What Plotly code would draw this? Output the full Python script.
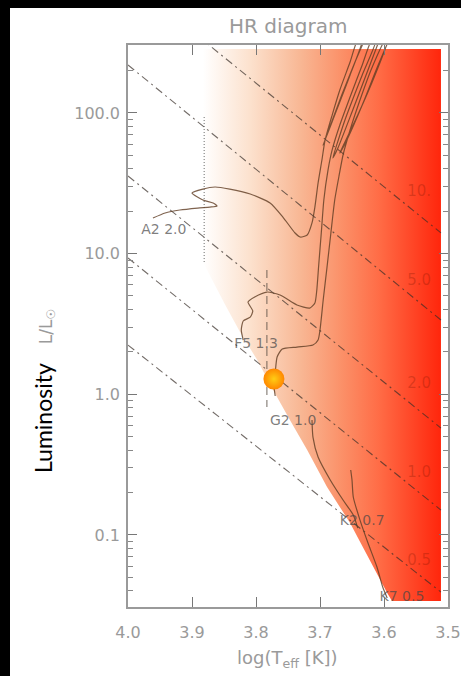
import plotly.graph_objects as go

# ---------------- data (log Teff, log L/Lsun) ----------------
# shaded (gradient) region outline
region_logt = [3.883, 3.511, 3.511, 3.5875, 3.595, 3.622, 3.653, 3.689, 3.720, 3.747, 3.775, 3.798, 3.825, 3.848, 3.869, 3.883]
region_logl = [2.455, 2.455, -1.470, -1.470, -1.413, -1.178, -0.915, -0.659, -0.396, -0.183, 0.045, 0.244, 0.443, 0.635, 0.812, 0.940]

# constant-radius lines (R / Rsun), start and end points
radius_values = [10, 5, 2, 1, 0.5]
radius_labels = ["10.", "5.0", "2.0", "1.0", "0.5"]
radius_start_logt = [4.0, 4.0, 4.0, 4.0, 4.0]
radius_start_logl = [2.949, 2.341, 1.552, 0.969, 0.350]
radius_end_logt = [3.511, 3.511, 3.511, 3.511, 3.511]
radius_end_logl = [1.147, 0.528, -0.240, -0.823, -1.406]
radius_label_logt = [3.545, 3.545, 3.545, 3.545, 3.545]
radius_label_logl = [1.438, 0.805, 0.073, -0.560, -1.185]

# evolutionary tracks
a2_logt = [3.961, 3.942, 3.919, 3.891, 3.872, 3.861, 3.867, 3.883, 3.900, 3.883, 3.864, 3.841, 3.809, 3.778,
           3.758, 3.739, 3.731, 3.720, 3.7125, 3.708, 3.703, 3.697, 3.692, 3.681, 3.669, 3.653, 3.641,
           3.634, 3.653, 3.677, 3.695, 3.6875, 3.666, 3.644, 3.627]
a2_logl = [1.253, 1.289, 1.310, 1.324, 1.331, 1.3385, 1.360, 1.381, 1.431, 1.459, 1.4735, 1.459, 1.424, 1.360,
           1.260, 1.1465, 1.118, 1.132, 1.218, 1.331, 1.502, 1.6655, 1.808, 1.985, 2.163, 2.362, 2.519,
           2.519, 2.270, 1.985, 1.772, 1.8645, 2.128, 2.376, 2.554]

f5_logt = [3.820, 3.823, 3.820, 3.809, 3.805, 3.8125, 3.802, 3.783, 3.7625, 3.736, 3.716, 3.708, 3.705, 3.702,
           3.698, 3.694, 3.6875, 3.681, 3.669, 3.653, 3.634, 3.619,
           3.6125, 3.634, 3.661, 3.680, 3.672, 3.650, 3.628, 3.606]
f5_logl = [0.386, 0.457, 0.521, 0.549, 0.592, 0.656, 0.692, 0.727, 0.706, 0.635, 0.613, 0.649, 0.741, 0.919,
           1.1465, 1.381, 1.594, 1.737, 1.914, 2.113, 2.341, 2.519,
           2.519, 2.270, 1.950, 1.680, 1.751, 2.007, 2.270, 2.533]

g2_logt = [3.770, 3.772, 3.770, 3.767, 3.759, 3.736, 3.711, 3.703, 3.700, 3.695, 3.689, 3.683, 3.677, 3.670,
           3.664, 3.653, 3.6375, 3.619, 3.598,
           3.594, 3.614, 3.641, 3.669, 3.658, 3.634, 3.611, 3.591]
g2_logl = [-0.012, 0.066, 0.151, 0.265, 0.322, 0.336, 0.350, 0.386, 0.457, 0.670, 0.905, 1.1465, 1.381, 1.559,
           1.701, 1.879, 2.092, 2.3195, 2.519,
           2.519, 2.270, 1.985, 1.715, 1.808, 2.0565, 2.3195, 2.533]

k2_logt = [3.7125, 3.711, 3.703, 3.684, 3.664, 3.648, 3.641]
k2_logl = [-0.183, -0.304, -0.446, -0.609, -0.7515, -0.858, -0.951]

k7_logt = [3.652, 3.650, 3.648, 3.6375, 3.625, 3.611, 3.602, 3.595]
k7_logl = [-0.538, -0.609, -0.730, -0.894, -1.057, -1.228, -1.370, -1.448]

# star labels (spectral type, mass)
star_labels = ["A2 2.0", "F5 1.3", "G2 1.0", "K2 0.7", "K7 0.5"]
star_label_logt = [3.944, 3.800, 3.742, 3.634, 3.572]
star_label_logl = [1.161, 0.357, -0.190, -0.901, -1.441]

# reference vertical lines
dashed_logt = [3.783, 3.783]
dashed_logl = [0.884, -0.090]
dotted_logt = [3.881, 3.881]
dotted_logl = [1.971, 0.940]

# the Sun marker
sun_logt = [3.772]
sun_logl = [0.109]

# axis ticks
x_ticks = [4.0, 3.9, 3.8, 3.7, 3.6, 3.5]
x_ticktext = ["4.0", "3.9", "3.8", "3.7", "3.6", "3.5"]
y_ticks = [0.1, 1.0, 10.0, 100.0]
y_ticktext = ["0.1", "1.0", "10.0", "100.0"]
y_minor = [0.04, 0.05, 0.06, 0.07, 0.08, 0.09, 0.2, 0.3, 0.4, 0.5, 0.6, 0.7, 0.8, 0.9,
           2, 3, 4, 5, 6, 7, 8, 9, 20, 30, 40, 50, 60, 70, 80, 90, 200, 300]


def lin(v):
    return [10 ** a for a in v]


GRAY = "#9a9a9a"
TRACK = "rgba(95,60,35,0.8)"
RLINE = "rgba(55,45,40,0.7)"

fig = go.Figure()

# gradient region
fig.add_trace(go.Scatter(
    x=region_logt, y=lin(region_logl), mode="lines", fill="toself",
    line=dict(width=0, color="rgba(0,0,0,0)"),
    fillgradient=dict(type="horizontal", start=3.511, stop=3.883,
                      colorscale=[[0.0, "rgb(255,38,12)"], [0.09, "rgb(255,62,32)"],
                                  [0.26, "rgb(255,108,70)"], [0.42, "rgb(251,145,105)"],
                                  [0.59, "rgb(248,183,148)"], [0.8, "rgb(252,225,205)"],
                                  [1.0, "rgb(255,255,255)"]]),
    hoverinfo="skip", showlegend=False))

# radius lines
for i in range(len(radius_values)):
    fig.add_trace(go.Scatter(
        x=[radius_start_logt[i], radius_end_logt[i]],
        y=lin([radius_start_logl[i], radius_end_logl[i]]),
        mode="lines", line=dict(color=RLINE, width=1.1, dash="8px,4px,2px,4px"),
        hoverinfo="skip", showlegend=False))

fig.add_trace(go.Scatter(
    x=radius_label_logt, y=lin(radius_label_logl), mode="text", text=radius_labels,
    textfont=dict(family="DejaVu Sans", size=15, color="rgba(120,20,0,0.28)"),
    hoverinfo="skip", showlegend=False))

# vertical reference lines
fig.add_trace(go.Scatter(x=dotted_logt, y=lin(dotted_logl), mode="lines",
                         line=dict(color="rgba(70,70,70,0.8)", width=1, dash="1px,2px"),
                         hoverinfo="skip", showlegend=False))
fig.add_trace(go.Scatter(x=dashed_logt, y=lin(dashed_logl), mode="lines",
                         line=dict(color="rgba(90,80,70,0.7)", width=1.2, dash="8px,5px"),
                         hoverinfo="skip", showlegend=False))

# tracks
for tx, tl in [(a2_logt, a2_logl), (f5_logt, f5_logl), (g2_logt, g2_logl),
               (k2_logt, k2_logl), (k7_logt, k7_logl)]:
    fig.add_trace(go.Scatter(x=tx, y=lin(tl), mode="lines",
                             line=dict(color=TRACK, width=1.2, shape="spline", smoothing=0.6),
                             hoverinfo="skip", showlegend=False))

# star labels
fig.add_trace(go.Scatter(
    x=star_label_logt, y=lin(star_label_logl), mode="text", text=star_labels,
    textfont=dict(family="DejaVu Sans", size=14, color="rgba(70,70,70,0.7)"),
    hoverinfo="skip", showlegend=False))

# Sun
fig.add_trace(go.Scatter(
    x=sun_logt, y=lin(sun_logl), mode="markers",
    marker=dict(size=21, color="rgb(255,135,0)", line=dict(width=0),
                gradient=dict(type="radial", color="rgb(255,205,20)")),
    hoverinfo="skip", showlegend=False))

fig.update_xaxes(
    range=[4.0, 3.5], tickvals=x_ticks, ticktext=x_ticktext,
    ticks="inside", ticklen=10, tickwidth=1, tickcolor="#777",
    showline=True, linecolor=GRAY, linewidth=1.5, mirror="ticks",
    showgrid=False, zeroline=False, automargin=False,
    tickfont=dict(family="DejaVu Sans", size=16, color=GRAY), ticklabelstandoff=10)

fig.update_yaxes(
    type="log", range=[-1.512, 2.483], tickvals=y_ticks, ticktext=y_ticktext,
    ticks="inside", ticklen=9, tickwidth=1, tickcolor="#777",
    minor=dict(tickvals=y_minor, ticks="inside", ticklen=5, tickcolor="#888", showgrid=False),
    showline=True, linecolor=GRAY, linewidth=1.5, mirror="ticks",
    showgrid=False, zeroline=False, automargin=False,
    tickfont=dict(family="DejaVu Sans", size=16, color=GRAY), ticklabelstandoff=3)

fig.update_layout(
    width=461, height=676,
    margin=dict(l=128, r=13, t=45, b=69),
    paper_bgcolor="black", plot_bgcolor="white",
    showlegend=False,
    shapes=[
        # white page area; the black paper shows as the left and top border
        dict(type="rect", xref="paper", yref="paper", x0=-0.36875, x1=1.2, y0=-0.3, y1=1.0658,
             fillcolor="white", line=dict(width=0), layer="below"),
    ],
    annotations=[
        dict(text="HR diagram", xref="paper", yref="paper", x=0.5, y=1.0338,
             showarrow=False, xanchor="center", yanchor="middle",
             font=dict(family="DejaVu Sans", size=20, color=GRAY)),
        dict(text="log(T<sub>eff</sub> [K])", xref="paper", yref="paper", x=0.497, y=-0.0925,
             showarrow=False, xanchor="center", yanchor="middle",
             font=dict(family="DejaVu Sans", size=18, color=GRAY)),
        dict(text="Luminosity", xref="paper", yref="paper", x=-0.266, y=0.336,
             showarrow=False, xanchor="center", yanchor="middle", textangle=-90,
             font=dict(family="Lato", size=23, color="black")),
        dict(text="L/L<sub>☉</sub>", xref="paper", yref="paper", x=-0.253, y=0.498,
             showarrow=False, xanchor="center", yanchor="middle", textangle=-90,
             font=dict(family="DejaVu Sans", size=17, color=GRAY)),
    ],
)

fig.write_html("out.html", config={"displayModeBar": False},
               post_script="document.body.style.margin='0';document.body.style.overflow='hidden';")
